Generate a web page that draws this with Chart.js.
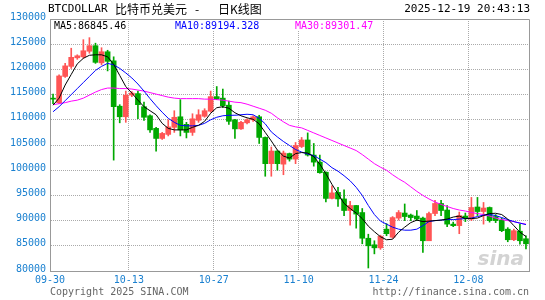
<!DOCTYPE html>
<html>
<head>
<meta charset="utf-8">
<script src="https://cdn.jsdelivr.net/npm/chart.js@4.4.1/dist/chart.umd.min.js"></script>
<style>
  html, body { margin: 0; padding: 0; background: #fff; }
</style>
</head>
<body>
<canvas id="kline" width="545" height="300"></canvas>
<script>
// daily candles, 09-30 .. 12-17
var dates = [
  '09-30','10-01','10-02','10-03','10-04','10-05','10-06','10-07','10-08','10-09',
  '10-10','10-11','10-12','10-13','10-14','10-15','10-16','10-17','10-18','10-19',
  '10-20','10-21','10-22','10-23','10-24','10-25','10-26','10-27','10-28','10-29',
  '10-30','10-31','11-01','11-02','11-03','11-04','11-05','11-06','11-07','11-08',
  '11-09','11-10','11-11','11-12','11-13','11-14','11-15','11-16','11-17','11-18',
  '11-19','11-20','11-21','11-22','11-23','11-24','11-25','11-26','11-27','11-28',
  '11-29','11-30','12-01','12-02','12-03','12-04','12-05','12-06','12-07','12-08',
  '12-09','12-10','12-11','12-12','12-13','12-14','12-15','12-16','12-17'
];
var openPrices = [
  114300,113400,118600,120600,122300,122500,123600,124700,121300,123500,
  121700,112700,110600,114900,115200,112600,110800,108300,106300,107100,
  108500,110600,109100,107500,109900,110700,111700,114600,114300,112900,
  110000,108200,109400,110000,110600,106500,101300,103800,101200,103300,
  102200,104700,106000,103000,101600,99600,94400,95600,94300,92000,
  93000,91600,86500,85200,84600,88300,86700,90500,91500,91100,
  90900,90500,86000,91400,93400,92100,89300,89000,90900,90300,
  92700,91800,92600,90800,90100,88300,86200,87900,86400
];
var highPrices = [
  115100,118900,121200,124200,122900,125900,126300,125200,124300,123800,
  122500,113000,115700,115600,115700,113500,111000,108500,107500,110000,
  111800,114000,109500,111200,112000,112200,115700,116600,116100,113700,
  110100,109700,110200,110800,110900,106600,104600,103900,103800,103400,
  105500,106500,107400,105300,103000,99700,96900,96600,96100,93800,
  93000,92400,87300,86000,87100,89400,90800,92000,93300,91300,
  92000,90700,91700,94000,94000,93000,89700,91700,91500,94600,
  94600,93600,92700,91200,90500,88600,88300,89300,87000
];
var lowPrices = [
  113200,113200,118400,120200,122000,122200,123200,121200,120900,119700,
  102000,109400,109500,114600,110200,109900,107500,103800,106100,106800,
  107500,106800,106400,106900,109500,110500,111500,114000,112400,109100,
  106300,108100,109200,109700,105300,98800,98800,100000,99100,101800,
  101300,104500,102800,100800,99400,93700,94300,92800,91000,89100,
  88500,85400,80600,83400,84300,87000,86500,90100,90000,90000,
  90000,83700,86000,91000,91000,88800,88800,87400,89800,90000,
  91000,89300,89700,89600,87800,85800,86000,85300,84400
];
var closePrices = [
  114100,118700,120700,122400,122700,123700,124700,121400,123500,121600,
  112600,110600,114900,115300,113000,110500,108000,106300,107300,108600,
  110500,108000,107500,110200,111000,111800,114600,114100,112800,109700,
  108200,109500,110000,110600,106500,101300,103800,101300,103400,102200,
  104900,106000,103000,101600,99500,94400,95500,94300,92000,93000,
  91300,86500,85000,84600,86900,87400,90600,91600,90800,90600,
  90300,86000,91400,93400,92000,89300,89000,91000,90400,92600,
  91800,92500,90000,90000,88000,86200,88000,86000,85400
];
// moving average lines
var ma5 = [
  112900,114300,116900,119000,121100,122200,122800,122900,122900,122500,
  121000,118800,116600,115300,113900,112600,111800,111000,109300,108300,
  108000,108000,108000,108500,108900,109700,111300,112400,112600,112300,
  111400,110800,110400,110100,109200,107500,105800,104000,102800,102400,
  103300,103500,103400,102700,101200,99300,97200,95300,93400,92400,
  91500,90400,88900,87800,86800,86200,86300,87700,88700,89600,
  90100,89800,89900,90000,90100,90300,90700,90900,90400,90400,
  90500,91000,91400,91450,91200,90300,89000,87700,86850
];
var ma10 = [
  111600,112600,113800,115000,116200,117400,118600,119800,120600,121200,
  120900,120200,119300,118300,117100,115700,114200,112800,111500,110300,
  109500,108900,108800,108800,108900,109300,110000,110500,110800,110900,
  110900,111000,111100,111000,110300,109200,107600,106600,105700,104900,
  104100,103600,103200,102900,102200,101500,100500,99800,98900,97900,
  96600,95000,93000,91200,89900,89300,88700,88300,88100,88100,
  88300,89000,89800,90000,90100,90200,90200,90300,90400,90500,
  90800,91100,91200,91000,90600,90200,89800,89500,89200
];
var ma30 = [
  113000,113200,113400,113700,113900,114300,114900,115500,116000,116300,
  116300,116200,116200,116100,115900,115700,115400,115100,114800,114500,
  114300,114200,114200,114200,114200,114100,114100,114000,113900,113700,
  113500,113400,113100,112700,112300,111900,111300,110400,109600,108900,
  108600,108400,107900,107400,106900,106400,105900,105400,104900,104400,
  103900,103100,102200,101300,100600,100000,99100,98300,97600,96700,
  95800,95000,94300,93700,93200,92800,92400,92100,91900,91600,
  91400,91200,90900,90500,90200,90000,89800,89500,89300
];
var labelDays = ['09-30', '10-13', '10-27', '11-10', '11-24', '12-08'];
var maLegend = ['MA5:86845.46', 'MA10:89194.328', 'MA30:89301.47'];

var UP = '#ff5555';
var DOWN = '#00a800';
var AXIS_BLUE = '#1a80d0';
var MONO = "'DejaVu Sans Mono', monospace";

var candleColors = closePrices.map(function (c, i) {
  return c >= openPrices[i] ? UP : DOWN;
});
var bodies = openPrices.map(function (o, i) { return [o, closePrices[i]]; });
var wicks = lowPrices.map(function (l, i) { return [l, highPrices[i]]; });

var labelIdx = labelDays.map(function (d) { return dates.indexOf(d); });

// frame, header and footer texts
var decor = {
  id: 'decor',
  afterDraw: function (chart) {
    var ctx = chart.ctx;
    var a = chart.chartArea;
    ctx.save();
    ctx.strokeStyle = '#999';
    ctx.lineWidth = 1;
    ctx.beginPath();
    ctx.moveTo(a.left, Math.round(a.top) + 0.5);
    ctx.lineTo(Math.round(a.right) + 0.5, Math.round(a.top) + 0.5);
    ctx.lineTo(Math.round(a.right) + 0.5, Math.round(a.bottom) + 0.5);
    ctx.stroke();

    // MA legend with white backing
    ctx.font = '10px ' + MONO;
    ctx.textBaseline = 'middle';
    var legendX = [54, 175, 295];
    var legendCol = ['#000000', '#0000ff', '#ff00ff'];
    maLegend.forEach(function (t, i) {
      var w = ctx.measureText(t).width;
      ctx.fillStyle = '#fff';
      ctx.fillRect(legendX[i] - 2, a.top + 1, w + 4, 11);
      ctx.fillStyle = legendCol[i];
      ctx.fillText(t, legendX[i], a.top + 7);
    });

    // title row
    ctx.fillStyle = '#000';
    ctx.font = '11px ' + MONO;
    ctx.fillText('BTCDOLLAR', 48, 9);
    ctx.font = "12px 'Noto Sans CJK SC', sans-serif";
    ctx.fillText('比特币兑美元', 115, 9);
    ctx.fillText('-', 195, 9);
    ctx.fillText('日K线图', 218, 9);
    ctx.font = '11px ' + MONO;
    ctx.textAlign = 'right';
    ctx.fillText('2025-12-19 20:43:13', 530, 9);

    // footer
    ctx.fillStyle = '#666';
    ctx.font = '10px ' + MONO;
    ctx.textAlign = 'left';
    ctx.fillText('Copyright 2025 SINA.COM', 50, 292);
    ctx.textAlign = 'right';
    ctx.fillText('http://finance.sina.com.cn', 529, 292);

    // watermark
    ctx.fillStyle = 'rgba(200,200,200,0.8)';
    ctx.font = "italic bold 20px 'DejaVu Sans', sans-serif";
    ctx.fillText('sina', 524, 260);
    ctx.restore();
  }
};

var ctx = document.getElementById('kline').getContext('2d');
var klineChart = new Chart(ctx, {
  type: 'bar',
  data: {
    labels: dates,
    datasets: [
      { type: 'line', data: ma5, borderColor: '#000', borderWidth: 1, pointRadius: 0, tension: 0, order: 0 },
      { type: 'line', data: ma10, borderColor: '#0000ff', borderWidth: 1, pointRadius: 0, tension: 0, order: 0 },
      { type: 'line', data: ma30, borderColor: '#ff00ff', borderWidth: 1, pointRadius: 0, tension: 0, order: 0 },
      { data: bodies, backgroundColor: candleColors, barThickness: 5, minBarLength: 1, grouped: false, order: 1 },
      { data: wicks, backgroundColor: candleColors, barThickness: 1, grouped: false, order: 2 }
    ]
  },
  options: {
    responsive: false,
    animation: false,
    layout: { padding: { top: 19, right: 16, left: 0, bottom: 0 } },
    plugins: { legend: { display: false }, tooltip: { enabled: false } },
    scales: {
      x: {
        type: 'category',
        offset: true,
        grid: {
          offset: true,
          drawTicks: false,
          color: function (c) {
            return (c.index > 0 && labelIdx.indexOf(c.index) >= 0) ? '#aaa' : 'rgba(0,0,0,0)';
          }
        },
        border: { color: '#999', dash: [1, 1] },
        ticks: {
          autoSkip: false,
          maxRotation: 0,
          labelOffset: -3,
          padding: 3,
          color: AXIS_BLUE,
          font: { family: MONO, size: 10 },
          callback: function (v, i) { return labelIdx.indexOf(i) >= 0 ? dates[i] : ''; }
        },
        afterFit: function (s) { s.height = 29; }
      },
      y: {
        min: 80000,
        max: 130000,
        grid: { color: '#aaa', drawTicks: false },
        border: { color: '#999', dash: [1, 1] },
        ticks: {
          stepSize: 5000,
          padding: 4,
          labelOffset: -2,
          color: AXIS_BLUE,
          font: { family: MONO, size: 10 },
          callback: function (v) { return String(v); }
        },
        afterFit: function (s) { s.width = 50; }
      }
    }
  },
  plugins: [decor]
});
</script>
</body>
</html>
